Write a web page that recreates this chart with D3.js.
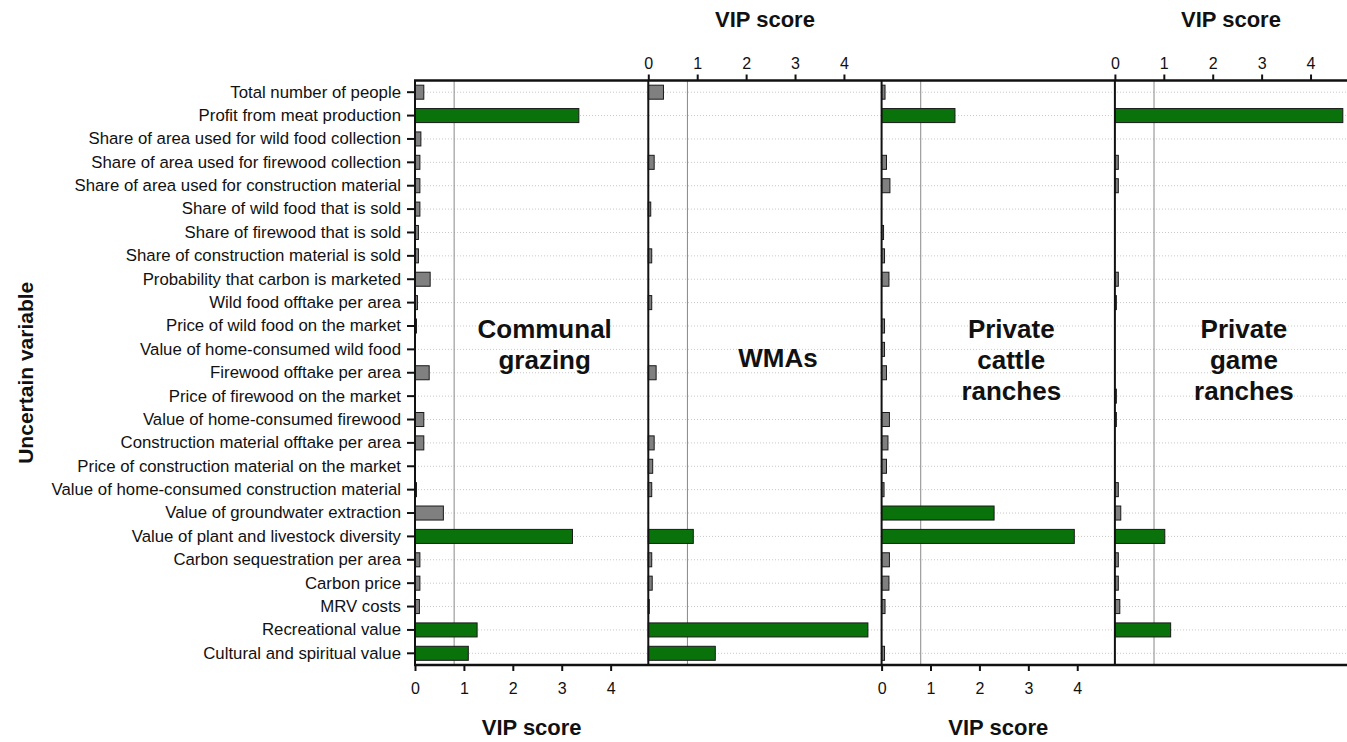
<!DOCTYPE html>
<html>
<head>
<meta charset="utf-8">
<script src="https://cdn.jsdelivr.net/npm/d3@7"></script>
<style>
  body { margin: 0; background: #fff; }
  text { font-family: "Liberation Sans", Arial, sans-serif; fill: #111; }
</style>
</head>
<body>
<div id="vip-chart"></div>
<script>
// uncertain variables, top to bottom
var variables = [
  "Total number of people",
  "Profit from meat production",
  "Share of area used for wild food collection",
  "Share of area used for firewood collection",
  "Share of area used for construction material",
  "Share of wild food that is sold",
  "Share of firewood that is sold",
  "Share of construction material is sold",
  "Probability that carbon is marketed",
  "Wild food offtake per area",
  "Price of wild food on the market",
  "Value of home-consumed wild food",
  "Firewood offtake per area",
  "Price of firewood on the market",
  "Value of home-consumed firewood",
  "Construction material offtake per area",
  "Price of construction material on the market",
  "Value of home-consumed construction material",
  "Value of groundwater extraction",
  "Value of plant and livestock diversity",
  "Carbon sequestration per area",
  "Carbon price",
  "MRV costs",
  "Recreational value",
  "Cultural and spiritual value"
];

// VIP scores per land use (same order as variables)
var vipCommunal = [0.18, 3.35, 0.12, 0.10, 0.10, 0.10, 0.07, 0.07, 0.31, 0.05, 0.03, 0.01, 0.29,
                   0.01, 0.18, 0.18, 0.01, 0.03, 0.58, 3.22, 0.10, 0.10, 0.09, 1.27, 1.09];
var vipWMA      = [0.31, 0, 0, 0.12, 0, 0.05, 0, 0.07, 0, 0.07, 0, 0, 0.16,
                   0, 0, 0.12, 0.09, 0.07, 0, 0.92, 0.07, 0.08, 0.02, 4.49, 1.37];
var vipCattle   = [0.07, 1.50, 0, 0.10, 0.17, 0, 0.04, 0.06, 0.15, 0, 0.06, 0.06, 0.10,
                   0, 0.16, 0.13, 0.10, 0.05, 2.30, 3.94, 0.16, 0.15, 0.07, 0, 0.06];
var vipGame     = [0, 4.66, 0, 0.07, 0.07, 0, 0, 0, 0.07, 0.03, 0, 0, 0,
                   0.03, 0.03, 0, 0, 0.07, 0.12, 1.02, 0.07, 0.07, 0.10, 1.14, 0];

var panelNames = [["Communal", "grazing"], ["WMAs"], ["Private", "cattle", "ranches"], ["Private", "game", "ranches"]];
var tickValues = [0, 1, 2, 3, 4];
var threshold = 0.8;
var axisTitle = "VIP score";
var yTitle = "Uncertain variable";

var panels = [
  {values: vipCommunal, name: panelNames[0], axis: "bottom"},
  {values: vipWMA,      name: panelNames[1], axis: "top"},
  {values: vipCattle,   name: panelNames[2], axis: "bottom"},
  {values: vipGame,     name: panelNames[3], axis: "top"}
];

// dimensions
var width = 1347, height = 742,
    plotLeft = 415, plotTop = 80.5, plotBottom = 665,
    panelWidth = 233.3, xMax = 4.77;

var svg = d3.select("#vip-chart").append("svg")
    .attr("width", width)
    .attr("height", height);

var y = d3.scaleBand()
    .domain(variables)
    .range([plotTop, plotBottom])
    .paddingInner(0.4)
    .paddingOuter(0.2);

// dotted row guides across all panels
svg.append("g").selectAll("line")
    .data(variables)
  .enter().append("line")
    .attr("x1", plotLeft)
    .attr("x2", width)
    .attr("y1", function(d) { return y(d) + y.bandwidth() / 2; })
    .attr("y2", function(d) { return y(d) + y.bandwidth() / 2; })
    .style("stroke", "#c8c8c8")
    .style("stroke-width", 1)
    .style("stroke-dasharray", "1,2");

panels.forEach(function(p, i) {
  var left = plotLeft + i * panelWidth,
      right = Math.min(left + panelWidth, width);

  var x = d3.scaleLinear().domain([0, xMax]).range([left, left + panelWidth]);

  var g = svg.append("g");

  // threshold line
  g.append("line")
      .attr("x1", x(threshold))
      .attr("x2", x(threshold))
      .attr("y1", plotTop)
      .attr("y2", plotBottom)
      .style("stroke", "#888")
      .style("stroke-width", 1);

  // panel name
  var firstBase = p.name.length === 1 ? 367 : 338;
  g.append("text")
      .attr("x", (left + right) / 2 + 13)
      .attr("text-anchor", "middle")
      .style("font-size", "26px")
      .style("font-weight", "bold")
    .selectAll("tspan")
      .data(p.name)
    .enter().append("tspan")
      .attr("x", (left + right) / 2 + 13)
      .attr("y", function(d, k) { return firstBase + k * 31; })
      .text(function(d) { return d; });

  // bars
  g.selectAll("rect")
      .data(p.values.map(function(v, k) { return {name: variables[k], value: v}; })
                    .filter(function(d) { return d.value > 0; }))
    .enter().append("rect")
      .attr("x", x(0))
      .attr("y", function(d) { return y(d.name); })
      .attr("width", function(d) { return x(d.value) - x(0); })
      .attr("height", y.bandwidth())
      .style("fill", function(d) { return d.value >= threshold ? "#0a720a" : "#808080"; })
      .style("stroke", "#1a1a1a")
      .style("stroke-width", 1);

  // x axis, alternating bottom / top
  var ax;
  if (p.axis === "bottom") {
    ax = g.append("g")
        .attr("transform", "translate(0," + plotBottom + ")")
        .call(d3.axisBottom(x).tickValues(tickValues).tickFormat(d3.format("d"))
                .tickSize(6).tickPadding(12).tickSizeOuter(0));
  } else {
    ax = g.append("g")
        .attr("transform", "translate(0," + plotTop + ")")
        .call(d3.axisTop(x).tickValues(tickValues).tickFormat(d3.format("d"))
                .tickSize(6).tickPadding(6).tickSizeOuter(0));
  }
  ax.select(".domain").remove();
  ax.selectAll(".tick line").style("stroke", "#111").style("stroke-width", 2);
  ax.selectAll(".tick text")
      .style("font-family", "'Liberation Sans', Arial, sans-serif")
      .style("font-size", "16px")
      .style("fill", "#111");

  // axis title
  g.append("text")
      .attr("x", (left + right) / 2)
      .attr("y", p.axis === "bottom" ? 735 : 27)
      .attr("text-anchor", "middle")
      .style("font-size", "22px")
      .style("font-weight", "bold")
      .text(axisTitle);

  // panel left edge
  g.append("line")
      .attr("x1", left)
      .attr("x2", left)
      .attr("y1", plotTop)
      .attr("y2", plotBottom)
      .style("stroke", "#111")
      .style("stroke-width", 2);
});

// top and bottom frame
[plotTop, plotBottom].forEach(function(yy) {
  svg.append("line")
      .attr("x1", plotLeft - 1)
      .attr("x2", width)
      .attr("y1", yy)
      .attr("y2", yy)
      .style("stroke", "#111")
      .style("stroke-width", 2.5);
});

// y axis with variable names
var yAxis = svg.append("g")
    .attr("transform", "translate(" + plotLeft + ",0)")
    .call(d3.axisLeft(y).tickSize(8).tickPadding(6).tickSizeOuter(0));
yAxis.select(".domain").remove();
yAxis.selectAll(".tick line").style("stroke", "#111").style("stroke-width", 2);
yAxis.selectAll(".tick text")
    .style("font-family", "'Liberation Sans', Arial, sans-serif")
    .style("font-size", "16.8px")
    .style("fill", "#111");

// y title
svg.append("text")
    .attr("transform", "translate(33," + (plotTop + plotBottom) / 2 + ") rotate(-90)")
    .attr("text-anchor", "middle")
    .style("font-size", "21px")
    .style("font-weight", "bold")
    .text(yTitle);
</script>
</body>
</html>
